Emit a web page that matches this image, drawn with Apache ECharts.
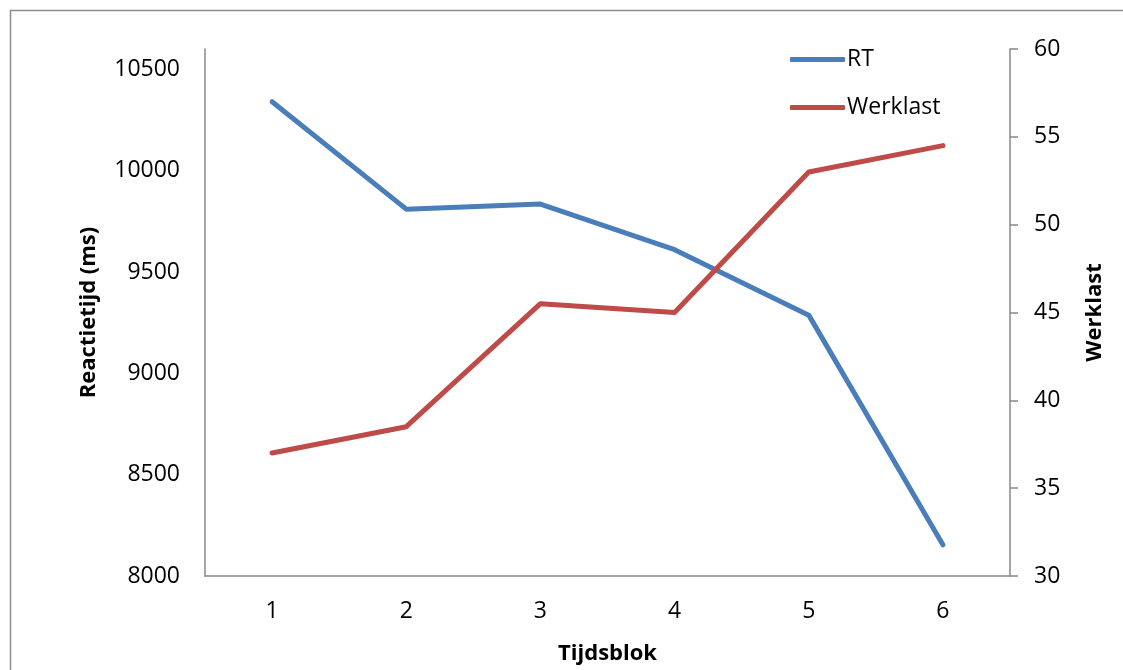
<!DOCTYPE html>
<html>
<head>
<meta charset="utf-8">
<script src="https://cdn.jsdelivr.net/npm/echarts@6/dist/echarts.min.js"></script>
<style>
  html, body { margin: 0; padding: 0; background: #fff; }
  #chart { width: 1123px; height: 670px; }
</style>
</head>
<body>
<div id="chart"></div>
<script>
// Time blocks on the x axis
const blocks = ['1', '2', '3', '4', '5', '6'];
// Reaction time per block (ms), left axis
const rtValues = [10340, 9810, 9835, 9610, 9287, 8154];
// Workload per block, right axis
const workloadValues = [37.0, 38.5, 45.5, 45.0, 53.0, 54.5];

const FONT = '"Open Sans", sans-serif';
const AXIS_GREY = '#888888';

const chart = echarts.init(document.getElementById('chart'), null, { renderer: 'canvas' });

chart.setOption({
  animation: false,
  backgroundColor: '#ffffff',
  textStyle: { fontFamily: FONT, color: '#000' },
  graphic: [{
    type: 'rect',
    shape: { x: 10.5, y: 10.5, width: 1300, height: 800 },
    style: { fill: 'none', stroke: '#8c8c8c', lineWidth: 1.5 },
    silent: true
  }],
  legend: {
    orient: 'vertical',
    left: 785,
    top: 43,
    icon: 'roundRect',
    itemWidth: 55,
    itemHeight: 5,
    itemGap: 25,
    textStyle: { fontFamily: FONT, fontSize: 23, color: '#000', padding: [0, 0, 0, -3] },
    data: ['RT', 'Werklast']
  },
  grid: { left: 205, right: 113, top: 49, bottom: 79, containLabel: false },
  xAxis: {
    type: 'category',
    data: blocks,
    boundaryGap: true,
    axisLine: { lineStyle: { color: AXIS_GREY, width: 1.5 } },
    axisTick: { show: false },
    axisLabel: { fontFamily: FONT, fontSize: 23, color: '#000', margin: 24 },
    name: 'Tijdsblok',
    nameLocation: 'middle',
    nameGap: 67,
    nameTextStyle: { fontFamily: FONT, fontSize: 22, fontWeight: 'bold', color: '#000' }
  },
  yAxis: [{
    type: 'value',
    min: 8000,
    max: 10600,
    interval: 500,
    position: 'left',
    axisLine: { show: true, lineStyle: { color: AXIS_GREY, width: 1.5 } },
    axisTick: { show: false },
    splitLine: { show: false },
    axisLabel: {
      fontFamily: FONT, fontSize: 23, color: '#000', margin: 25, showMaxLabel: false,
      formatter: v => String(v)
    },
    name: 'Reactietijd (ms)',
    nameLocation: 'middle',
    nameGap: 105,
    nameRotate: 90,
    nameTextStyle: { fontFamily: FONT, fontSize: 22, fontWeight: 'bold', color: '#000' }
  }, {
    type: 'value',
    min: 30,
    max: 60,
    interval: 5,
    position: 'right',
    axisLine: { show: true, lineStyle: { color: AXIS_GREY, width: 1.5 } },
    axisTick: { show: true, inside: false, length: 8, lineStyle: { color: AXIS_GREY, width: 1.5 } },
    splitLine: { show: false },
    axisLabel: { fontFamily: FONT, fontSize: 23, color: '#000', margin: 24 },
    name: 'Werklast',
    nameLocation: 'middle',
    nameGap: 74,
    nameRotate: 90,
    nameTextStyle: { fontFamily: FONT, fontSize: 22, fontWeight: 'bold', color: '#000' }
  }],
  series: [{
    name: 'RT',
    type: 'line',
    yAxisIndex: 0,
    data: rtValues,
    symbol: 'none',
    color: '#4A7EBB',
    lineStyle: { width: 5, color: '#4A7EBB', cap: 'round', join: 'round' }
  }, {
    name: 'Werklast',
    type: 'line',
    yAxisIndex: 1,
    data: workloadValues,
    symbol: 'none',
    color: '#BE4B48',
    lineStyle: { width: 5, color: '#BE4B48', cap: 'round', join: 'round' }
  }]
});
</script>
</body>
</html>
